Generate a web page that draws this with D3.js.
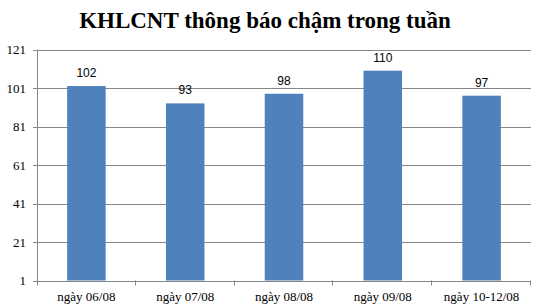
<!DOCTYPE html>
<html>
<head>
<meta charset="utf-8">
<script src="https://cdnjs.cloudflare.com/ajax/libs/d3/7.8.5/d3.min.js"></script>
<style>
  body { margin: 0; background: #fff; }
  svg { display: block; }
</style>
</head>
<body>
<div id="chart"></div>
<script>
var categories = ['ngày 06/08', 'ngày 07/08', 'ngày 08/08', 'ngày 09/08', 'ngày 10-12/08'];
var values = [102, 93, 98, 110, 97];
var yTicks = [1, 21, 41, 61, 81, 101, 121];

var width = 536, height = 307;
var margin = { top: 49.5, right: 5, bottom: 26.5, left: 37 };

var svg = d3.select('#chart').append('svg')
  .attr('width', width)
  .attr('height', height);

var x = d3.scaleBand()
  .domain(categories)
  .range([margin.left, width - margin.right])
  .paddingInner(0.61)
  .paddingOuter(0.305);

var y = d3.scaleLinear()
  .domain([1, 121])
  .range([height - margin.bottom, margin.top]);

// gridlines
svg.append('g')
  .selectAll('line')
  .data(yTicks)
  .enter().append('line')
  .attr('x1', margin.left - 4)
  .attr('x2', width - margin.right)
  .attr('y1', function(d) { return Math.round(y(d)) + 0.5; })
  .attr('y2', function(d) { return Math.round(y(d)) + 0.5; })
  .attr('stroke', '#868686')
  .attr('stroke-width', 1);

// y labels
svg.append('g')
  .selectAll('text')
  .data(yTicks)
  .enter().append('text')
  .attr('x', margin.left - 11)
  .attr('y', function(d) { return y(d) + 4.5; })
  .attr('text-anchor', 'end')
  .style('font-family', '"Liberation Serif", serif')
  .style('font-size', '13px')
  .attr('fill', '#000')
  .text(function(d) { return d; });

// bars
svg.append('g')
  .selectAll('rect')
  .data(values)
  .enter().append('rect')
  .attr('x', function(d, i) { return x(categories[i]); })
  .attr('width', x.bandwidth())
  .attr('y', function(d) { return y(d); })
  .attr('height', function(d) { return y(1) - y(d); })
  .attr('fill', '#4F81BD');

// value labels
svg.append('g')
  .selectAll('text')
  .data(values)
  .enter().append('text')
  .attr('x', function(d, i) { return x(categories[i]) + x.bandwidth() / 2; })
  .attr('y', function(d) { return y(d) - 9; })
  .attr('text-anchor', 'middle')
  .style('font-family', '"Liberation Sans", Arial, sans-serif')
  .style('font-size', '12px')
  .attr('fill', '#000')
  .text(function(d) { return d; });

// axis lines and category ticks
var bounds = d3.range(categories.length + 1).map(function(i) {
  return margin.left + i * (width - margin.right - margin.left) / categories.length;
});

svg.append('line')
  .attr('x1', margin.left + 0.5).attr('x2', margin.left + 0.5)
  .attr('y1', margin.top).attr('y2', y(1) + 5)
  .attr('stroke', '#868686');

svg.append('g')
  .selectAll('line')
  .data(bounds.slice(1))
  .enter().append('line')
  .attr('x1', function(d) { return Math.round(d) - 0.5; })
  .attr('x2', function(d) { return Math.round(d) - 0.5; })
  .attr('y1', y(1))
  .attr('y2', y(1) + 5)
  .attr('stroke', '#868686');

// category labels
svg.append('g')
  .selectAll('text')
  .data(categories)
  .enter().append('text')
  .attr('x', function(d) { return x(d) + x.bandwidth() / 2; })
  .attr('y', 301)
  .attr('text-anchor', 'middle')
  .style('font-family', '"Liberation Serif", serif')
  .style('font-size', '13px')
  .attr('fill', '#000')
  .text(function(d) { return d; });

// title
svg.append('text')
  .attr('x', 265)
  .attr('y', 28)
  .attr('text-anchor', 'middle')
  .style('font-family', '"Liberation Serif", serif')
  .style('font-weight', 'bold')
  .style('font-size', '23px')
  .attr('fill', '#000')
  .text('KHLCNT thông báo chậm trong tuần');
</script>
</body>
</html>
